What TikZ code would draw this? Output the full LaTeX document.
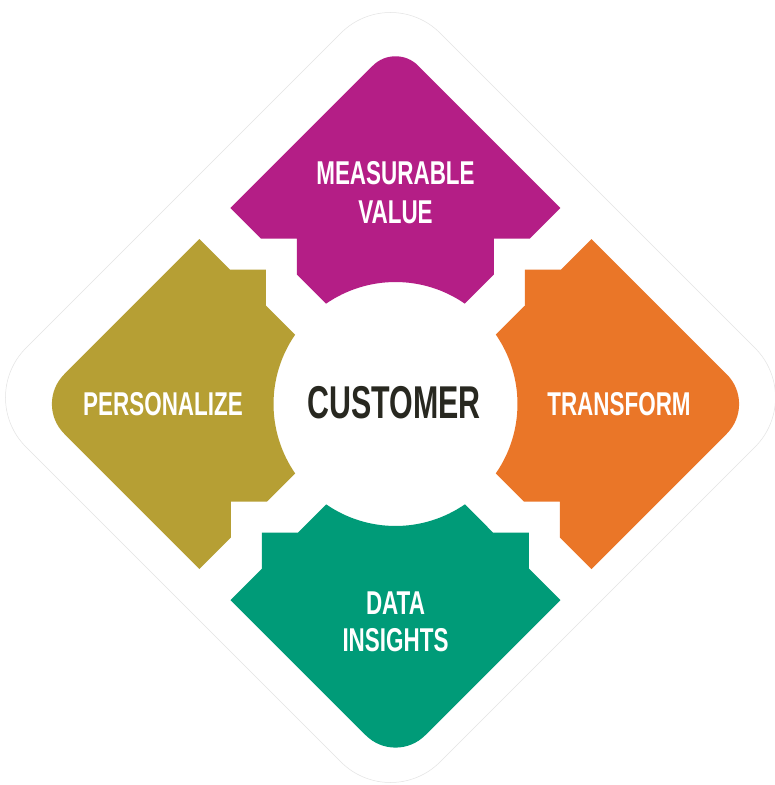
\documentclass[tikz,border=0pt]{standalone}
\usepackage{fontspec}
\newfontfamily\labelfont[FakeStretch=0.68]{Liberation Sans}
\newfontfamily\centerfont[FakeStretch=0.66]{Liberation Sans}
\definecolor{cmag}{RGB}{180,30,134}
\definecolor{colive}{RGB}{182,159,52}
\definecolor{corange}{RGB}{234,118,40}
\definecolor{cgreen}{RGB}{0,155,120}
\definecolor{cdark}{RGB}{40,40,32}
\begin{document}
\begin{tikzpicture}[x=1pt,y=1pt,
  lbl/.style={text=white, font=\labelfont\bfseries\fontsize{33}{39}\selectfont, align=center, inner sep=0pt},
  lbltwo/.style={text=white, font=\labelfont\bfseries\fontsize{33}{37}\selectfont, align=center, inner sep=0pt},
  ctr/.style={text=cdark, font=\centerfont\bfseries\fontsize{46}{46}\selectfont, inner sep=0pt},
  outline/.style={draw=black!11, line width=0.5pt}]
\fill[white] (-395.5,-381) rectangle (379.5,404);
\useasboundingbox (-395.5,-381) rectangle (379.5,404);
% faint outer rounded diamond
\draw[outline, rounded corners=70pt] (-212,213.5) -- (-5,420.5) -- (409,6.5) -- (-5,-407.5) -- (-419,6.5) -- cycle;
% top piece (magenta)
\fill[cmag] (-165,196) -- (-22.63,338.37) arc[start angle=135,end angle=45,radius=32pt]
  -- (165,196) -- (134.5,165.5) -- (98.5,165.5) -- (98.5,129.5) -- (69.35,100.35)
  arc[start angle=55.35,end angle=124.65,radius=122pt]
  -- (-98.5,129.5) -- (-98.5,165.5) -- (-134.5,165.5) -- cycle;
% right piece (orange)
\fill[corange] (196,165) -- (331.3,29.7) arc[start angle=45,end angle=-45,radius=42pt]
  -- (196,-165) -- (164.5,-133.5) -- (164.5,-97.5) -- (128.5,-97.5) -- (100.35,-69.35)
  arc[start angle=-34.65,end angle=34.65,radius=122pt]
  -- (129.5,98.5) -- (129.5,134.5) -- (165.5,134.5) -- cycle;
% bottom piece (green)
\fill[cgreen] (-165,-196) -- (-133.5,-164.5) -- (-133.5,-128.5) -- (-97.5,-128.5) -- (-69.35,-100.35)
  arc[start angle=235.35,end angle=304.65,radius=122pt]
  -- (97.5,-128.5) -- (133.5,-128.5) -- (133.5,-164.5) -- (165,-196)
  -- (29.7,-331.3) arc[start angle=-45,end angle=-135,radius=42pt] -- cycle;
% left piece (olive)
\fill[colive] (-196,165) -- (-165.5,134.5) -- (-129.5,134.5) -- (-129.5,98.5) -- (-100.35,69.35)
  arc[start angle=145.35,end angle=214.65,radius=122pt]
  -- (-128.5,-97.5) -- (-164.5,-97.5) -- (-164.5,-133.5) -- (-196,-165)
  -- (-331.3,-29.7) arc[start angle=225,end angle=135,radius=42pt] -- cycle;
% labels
\node[lbl] (measure) at (0,211.5) {MEASURABLE\\VALUE};
\node[lbl] (personal) at (-232.5,0) {PERSONALIZE};
\node[lbl] (transf) at (223.5,0) {TRANSFORM};
\node[lbltwo] (data) at (0,-218) {DATA\\INSIGHTS};
\node[ctr] (cust) at (-1.5,1.5) {CUSTOMER};
\end{tikzpicture}
\end{document}
